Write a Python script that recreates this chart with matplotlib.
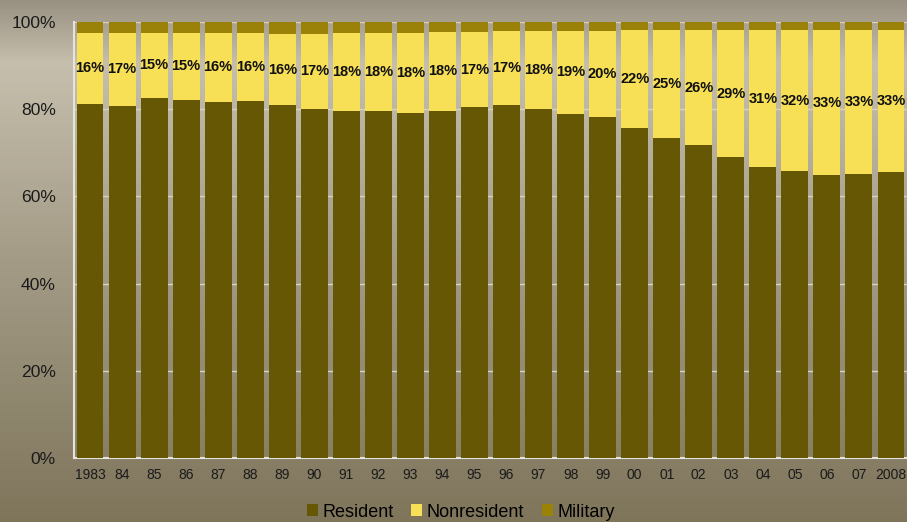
import numpy as np
import matplotlib
matplotlib.use("Agg")
import matplotlib.pyplot as plt

plt.rcParams['font.family'] = ['Liberation Sans', 'DejaVu Sans']

years = ["1983", "84", "85", "86", "87", "88", "89", "90", "91", "92", "93", "94", "95",
         "96", "97", "98", "99", "00", "01", "02", "03", "04", "05", "06", "07", "2008"]
resident = [81.2, 80.8, 82.6, 82.1, 81.7, 81.8, 81.0, 80.0, 79.6, 79.6, 79.1, 79.6, 80.4,
            81.0, 80.0, 78.9, 78.2, 75.8, 73.4, 71.8, 69.1, 66.7, 65.8, 64.9, 65.2, 65.6]
nonresident = [16.3, 16.7, 14.9, 15.4, 15.8, 15.7, 16.2, 17.3, 17.9, 17.8, 18.4, 18.1, 17.4,
               16.9, 18.0, 19.1, 19.8, 22.3, 24.7, 26.3, 29.0, 31.4, 32.3, 33.2, 32.9, 32.6]
military = [2.5, 2.5, 2.5, 2.5, 2.5, 2.5, 2.8, 2.7, 2.5, 2.6, 2.5, 2.3, 2.2,
            2.1, 2.0, 2.0, 2.0, 1.9, 1.9, 1.9, 1.9, 1.9, 1.9, 1.9, 1.9, 1.8]

C_RES = "#665705"
C_NON = "#f7e055"
C_MIL = "#9a8208"

fig = plt.figure(figsize=(9.07, 5.22), dpi=100)

# vertical background gradient
bg = fig.add_axes([0, 0, 1, 1], zorder=-10)
rows = np.linspace(0, 1, 522)
stops = [0.0, 0.12, 0.5, 1.0]
cols = np.array([[152, 145, 130], [198, 191, 173], [163, 155, 134], [127, 117, 91]]) / 255
grad = np.stack([np.interp(rows, stops, cols[:, k]) for k in range(3)], axis=1)
bg.imshow(grad[:, None, :], aspect="auto", extent=[0, 1, 0, 1], origin="upper")
bg.axis("off")

ax = fig.add_axes([74 / 907, 1 - 458 / 522, 1 - 74 / 907, 436 / 522])
ax.set_facecolor("none")

x = np.arange(len(years))
w = 0.84
res = np.array(resident)
non = np.array(nonresident)
mil = np.array(military)
ax.bar(x, res, w, color=C_RES, label="Resident", zorder=3)
ax.bar(x, non, w, bottom=res, color=C_NON, label="Nonresident", zorder=3)
ax.bar(x, mil, w, bottom=res + non, color=C_MIL, label="Military", zorder=3)

for xi, r, n in zip(x, res, non):
    ax.text(xi, r + n / 2, f"{n:.0f}%", ha="center", va="center",
            fontsize=10.5, fontweight="bold", color="#111111", zorder=4)

ax.set_xlim(-0.5, len(years) - 0.5)
ax.set_ylim(0, 100)
ax.set_yticks(range(0, 101, 20))
ax.set_yticklabels([f"{v}%" for v in range(0, 101, 20)], fontsize=12.6, color="#1a1a1a")
ax.set_xticks(x)
ax.set_xticklabels(years, fontsize=10, color="#1a1a1a")
ax.tick_params(axis="y", length=0, pad=13)
ax.tick_params(axis="x", length=0, pad=7)
ax.grid(axis="y", color="#d6d2c6", linewidth=1, zorder=1)
for s in ["top", "right"]:
    ax.spines[s].set_visible(False)
for s in ["left", "bottom"]:
    ax.spines[s].set_color("#e6e3dc")
    ax.spines[s].set_linewidth(1.5)

handles, labels = ax.get_legend_handles_labels()
fig.legend(handles, labels, loc="center", bbox_to_anchor=(0.508, 0.019), ncol=3,
           frameon=False, fontsize=13, handlelength=0.6, handleheight=0.6,
           handletextpad=0.25, columnspacing=1.0, borderpad=0)

fig.savefig("out.png", dpi=100)
